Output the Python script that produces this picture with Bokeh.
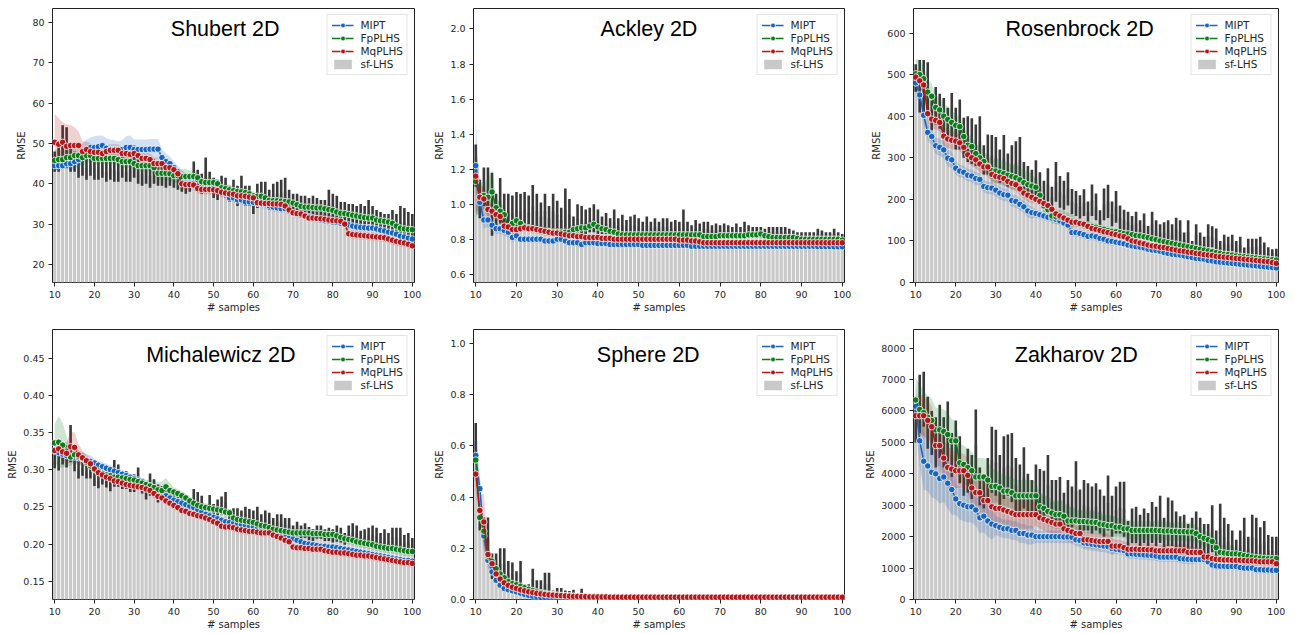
from bokeh.plotting import figure
from bokeh.models import Range1d, Label, Legend, LegendItem, FixedTicker, PrintfTickFormatter
from bokeh.layouts import gridplot
from bokeh.embed import file_html
from bokeh.resources import INLINE

samples = list(range(10, 101))
x_ticks = [10, 20, 30, 40, 50, 60, 70, 80, 90, 100]
series_names = ["MIPT", "FpPLHS", "MqPLHS", "sf-LHS"]

# ---------------- Shubert 2D ----------------
shubert_sflhs = [45.5,46.5,49.5,49.0,46.0,45.5,44.5,45.0,44.0,44.5,
 44.0,43.5,44.5,43.0,44.0,43.5,43.0,44.5,43.0,43.5,
 45.5,43.0,42.5,43.5,42.0,43.0,42.0,42.5,41.5,42.0,
 41.5,41.0,40.5,39.5,40.0,42.5,41.0,40.0,43.0,40.5,
 39.0,38.5,39.5,39.0,37.5,38.5,37.0,39.0,37.0,37.0,
 35.0,37.0,37.5,37.5,36.0,37.0,37.5,37.5,38.0,36.0,
 35.0,35.0,34.5,34.5,34.0,34.5,34.0,33.5,33.5,35.0,
 34.5,34.0,33.0,33.0,32.5,32.5,32.0,32.5,32.0,33.0,
 31.5,31.0,30.5,30.5,30.5,30.5,30.0,30.5,30.5,30.0,
 29.5]
shubert_sflhs_err = [2.5,3.5,5.0,5.0,3.0,2.5,3.0,3.0,3.0,2.5,
 3.0,2.5,3.0,2.5,3.0,3.0,2.5,3.0,2.5,3.0,
 4.0,3.0,3.0,3.5,3.0,3.0,2.5,3.0,2.5,2.5,
 2.5,2.5,2.5,2.0,2.0,3.0,2.5,2.5,3.5,2.5,
 2.5,2.5,2.5,2.5,2.0,2.5,2.5,3.0,2.5,2.5,
 2.5,3.0,3.0,3.0,2.5,3.0,3.0,3.5,3.5,2.5,
 2.5,2.5,2.5,2.5,2.5,2.5,2.5,2.5,2.5,3.5,
 3.0,3.0,2.5,2.5,2.5,2.5,2.5,2.5,2.5,3.0,
 3.0,2.5,2.5,2.0,2.0,3.0,2.5,4.0,3.5,3.0,
 3.0]
shubert_mipt = [44.5,44.5,44.5,45.0,45.0,45.5,46.0,47.5,48.5,49.0,
 49.0,49.2,49.5,48.8,48.5,48.5,48.5,48.5,49.0,49.0,
 48.5,48.5,48.5,48.5,48.6,48.6,48.6,46.5,45.5,45.0,
 44.0,43.0,42.0,41.5,41.5,41.5,41.0,40.5,40.0,39.8,
 39.5,39.0,38.5,37.5,36.5,36.5,36.0,36.0,35.5,35.5,
 35.4,35.2,35.0,34.8,34.5,34.2,34.0,33.8,33.8,33.2,
 32.7,32.5,32.2,32.0,31.8,31.5,31.3,31.0,30.8,30.7,
 30.5,30.4,30.2,30.0,29.8,29.5,29.3,29.2,29.1,29.0,
 29.0,28.8,28.5,28.3,28.0,27.8,27.5,27.0,26.8,26.5,
 26.3]
shubert_mipt_band = [1.0,1.0,1.0,1.2,1.5,1.8,2.0,2.5,2.5,2.5,
 2.8,2.8,2.5,2.5,2.5,2.3,2.0,2.3,2.8,3.0,
 2.5,2.5,2.5,2.5,2.5,2.5,2.5,2.0,2.0,1.8,
 1.5,1.5,1.3,1.2,1.2,1.2,1.2,1.0,1.0,1.0,
 1.0,1.0,1.0,1.0,1.0,1.0,1.0,1.0,1.0,1.0,
 1.0,1.0,1.0,1.0,1.0,1.0,1.0,1.0,1.0,1.0,
 0.9,0.9,0.9,0.9,0.9,0.9,0.9,0.9,0.9,0.9,
 0.9,0.9,0.9,0.9,0.9,0.9,0.9,0.9,0.9,0.9,
 0.8,0.8,0.8,0.8,0.8,0.8,0.8,0.8,0.8,0.8,
 0.8]
shubert_fp = [45.8,46.0,46.0,46.5,46.5,47.0,47.0,46.5,47.0,47.0,
 46.3,46.3,46.3,46.3,46.3,46.3,46.0,45.5,45.5,45.5,
 45.0,44.5,44.5,44.5,44.5,44.0,42.6,42.6,42.6,42.5,
 42.0,42.0,41.8,41.8,41.8,41.8,41.5,40.5,40.3,40.3,
 40.3,40.0,39.0,38.8,38.5,38.3,38.1,38.0,37.8,37.5,
 37.0,36.9,36.9,36.5,35.9,35.8,35.8,35.7,35.6,35.5,
 35.2,34.8,34.4,34.2,34.2,34.1,34.0,34.0,33.8,33.6,
 33.4,33.0,32.7,32.6,32.4,32.2,32.0,31.8,31.6,31.5,
 31.5,31.0,30.8,30.7,30.5,30.2,29.5,29.0,28.8,28.7,
 28.6]
shubert_fp_band = [2.5,2.5,2.0,2.5,2.0,2.0,2.0,2.0,1.8,1.8,
 1.5,1.5,1.5,1.5,1.5,1.5,1.5,1.5,1.5,1.5,
 1.5,1.5,1.5,1.5,1.5,1.8,1.8,1.8,1.8,1.8,
 1.8,1.8,1.8,1.8,1.5,1.5,1.5,1.2,1.2,1.2,
 1.0,1.0,1.0,1.0,1.0,1.0,1.0,1.0,1.0,1.0,
 1.0,1.0,1.0,1.0,1.0,1.0,1.0,1.0,1.0,1.0,
 1.0,1.0,1.0,1.0,1.0,1.0,1.0,1.0,1.0,1.0,
 1.0,1.0,1.0,1.0,1.0,1.0,1.0,1.0,1.0,1.0,
 1.0,1.0,1.0,1.0,1.0,1.0,1.0,1.0,1.0,1.0,
 1.0]
shubert_mq = [50.3,49.8,50.3,49.3,49.5,49.5,49.5,48.0,48.5,48.0,
 47.8,47.8,47.5,48.0,48.3,48.3,48.3,47.5,47.5,47.3,
 47.5,47.0,46.3,46.3,46.0,45.0,45.0,45.0,44.0,44.0,
 43.5,42.5,40.0,39.8,39.8,39.7,38.8,38.6,38.6,38.6,
 38.5,38.3,37.9,37.7,37.5,37.4,37.0,37.0,36.9,36.7,
 36.5,35.3,35.2,35.1,35.1,35.0,35.0,34.9,34.5,33.5,
 32.8,32.6,32.5,32.0,31.5,31.5,31.4,31.3,31.2,31.0,
 30.9,30.8,30.7,30.0,27.6,27.4,27.3,27.2,27.1,27.0,
 26.9,26.8,26.7,26.6,26.3,26.0,25.7,25.5,25.3,25.0,
 24.6]
shubert_mq_band = [7.0,6.5,5.0,5.5,5.0,4.5,3.5,2.5,2.0,2.0,
 1.5,1.5,1.5,1.5,1.5,1.5,1.5,1.5,1.5,1.5,
 1.5,1.5,1.5,1.5,1.5,1.5,1.5,1.5,1.5,1.5,
 1.2,1.2,1.2,1.2,1.2,1.2,1.2,1.2,1.2,1.2,
 1.2,1.2,1.2,1.2,1.2,1.2,1.2,1.2,1.2,1.2,
 1.0,1.0,1.0,1.0,1.0,1.0,1.0,1.0,1.0,1.0,
 1.0,1.0,1.0,1.0,1.0,1.0,1.0,1.0,1.0,1.0,
 1.0,1.0,1.0,1.0,1.0,1.0,1.0,1.0,1.0,1.0,
 1.0,1.0,1.0,1.0,1.0,1.0,1.0,1.0,1.0,1.0,
 1.0]

# ---------------- Ackley 2D ----------------
ackley_sflhs = [1.22,1.03,1.10,1.08,1.00,0.96,1.02,0.96,0.96,0.95,
 0.97,0.96,0.97,0.95,0.99,0.96,0.93,0.96,0.92,0.96,
 0.94,0.91,0.97,0.94,0.88,0.92,0.91,0.90,0.91,0.92,
 0.90,0.88,0.89,0.87,0.90,0.87,0.88,0.86,0.88,0.88,
 0.87,0.86,0.88,0.86,0.87,0.86,0.87,0.87,0.86,0.87,
 0.86,0.89,0.86,0.85,0.86,0.85,0.86,0.86,0.85,0.85,
 0.85,0.85,0.85,0.84,0.85,0.84,0.86,0.85,0.84,0.84,
 0.84,0.83,0.84,0.84,0.84,0.84,0.84,0.83,0.83,0.82,
 0.82,0.82,0.82,0.82,0.83,0.83,0.82,0.82,0.83,0.82,
 0.81]
ackley_sflhs_err = [0.12,0.11,0.11,0.13,0.18,0.10,0.13,0.10,0.10,0.10,
 0.10,0.10,0.10,0.10,0.12,0.10,0.08,0.10,0.07,0.10,
 0.08,0.07,0.12,0.09,0.05,0.08,0.08,0.07,0.07,0.08,
 0.07,0.05,0.06,0.05,0.07,0.05,0.06,0.05,0.05,0.06,
 0.05,0.04,0.05,0.04,0.05,0.04,0.05,0.05,0.04,0.04,
 0.04,0.08,0.04,0.03,0.05,0.04,0.04,0.04,0.03,0.04,
 0.03,0.04,0.03,0.03,0.04,0.03,0.04,0.03,0.03,0.03,
 0.03,0.03,0.03,0.03,0.03,0.03,0.03,0.03,0.02,0.02,
 0.02,0.02,0.02,0.02,0.03,0.02,0.02,0.02,0.03,0.02,
 0.02]
ackley_mipt = [1.22,1.01,0.91,0.91,0.88,0.86,0.86,0.85,0.84,0.81,
 0.82,0.80,0.80,0.80,0.80,0.80,0.80,0.79,0.79,0.79,
 0.80,0.80,0.79,0.78,0.78,0.78,0.77,0.78,0.78,0.78,
 0.775,0.775,0.775,0.77,0.77,0.77,0.77,0.77,0.77,0.77,
 0.77,0.765,0.765,0.765,0.765,0.765,0.765,0.765,0.765,0.765,
 0.765,0.765,0.765,0.76,0.76,0.76,0.76,0.76,0.76,0.76,
 0.76,0.76,0.76,0.76,0.76,0.76,0.76,0.76,0.76,0.76,
 0.76,0.76,0.76,0.76,0.76,0.76,0.76,0.76,0.76,0.76,
 0.76,0.76,0.76,0.76,0.758,0.758,0.758,0.758,0.757,0.757,
 0.757]
ackley_mipt_band = [0.27,0.08,0.05,0.04,0.035,0.03,0.03,0.03,0.03,0.03,
 0.02,0.02,0.02,0.02,0.02,0.02,0.02,0.02,0.02,0.02,
 0.02,0.02,0.02,0.02,0.02,0.02,0.02,0.02,0.02,0.02,
 0.012,0.012,0.012,0.012,0.012,0.012,0.012,0.012,0.012,0.012,
 0.012,0.012,0.012,0.012,0.012,0.012,0.012,0.012,0.012,0.012,
 0.012,0.012,0.012,0.012,0.012,0.012,0.012,0.012,0.012,0.012,
 0.012,0.012,0.012,0.012,0.012,0.012,0.012,0.012,0.012,0.012,
 0.012,0.012,0.012,0.012,0.012,0.012,0.012,0.012,0.012,0.012,
 0.012,0.012,0.012,0.012,0.012,0.012,0.012,0.012,0.012,0.012,
 0.012]
ackley_fp = [1.13,1.04,1.05,1.04,1.07,0.98,0.96,0.94,0.87,0.89,
 0.905,0.89,0.87,0.865,0.86,0.855,0.85,0.845,0.845,0.84,
 0.84,0.84,0.84,0.84,0.855,0.86,0.865,0.865,0.875,0.885,
 0.87,0.86,0.855,0.845,0.84,0.83,0.825,0.825,0.825,0.825,
 0.825,0.825,0.825,0.825,0.825,0.825,0.825,0.825,0.825,0.825,
 0.825,0.825,0.825,0.825,0.825,0.825,0.815,0.815,0.815,0.815,
 0.82,0.82,0.82,0.82,0.82,0.82,0.82,0.825,0.825,0.825,
 0.83,0.82,0.815,0.81,0.81,0.81,0.81,0.81,0.81,0.805,
 0.80,0.80,0.80,0.80,0.80,0.80,0.80,0.80,0.80,0.80,
 0.795]
ackley_fp_band = [0.20,0.08,0.08,0.10,0.13,0.06,0.05,0.04,0.03,0.03,
 0.025,0.025,0.025,0.025,0.025,0.025,0.025,0.025,0.025,0.025,
 0.025,0.025,0.025,0.025,0.025,0.025,0.025,0.025,0.025,0.025,
 0.015,0.015,0.015,0.015,0.015,0.015,0.015,0.015,0.015,0.015,
 0.015,0.015,0.015,0.015,0.015,0.015,0.015,0.015,0.015,0.015,
 0.015,0.015,0.015,0.015,0.015,0.015,0.015,0.015,0.015,0.015,
 0.015,0.015,0.015,0.015,0.015,0.015,0.015,0.015,0.015,0.015,
 0.015,0.015,0.015,0.015,0.015,0.015,0.015,0.015,0.015,0.015,
 0.015,0.015,0.015,0.015,0.015,0.015,0.015,0.015,0.015,0.015,
 0.015]
ackley_mq = [1.16,1.04,1.03,0.97,0.96,0.94,0.93,0.875,0.87,0.855,
 0.855,0.86,0.865,0.86,0.86,0.855,0.85,0.845,0.84,0.835,
 0.835,0.83,0.825,0.82,0.82,0.815,0.815,0.81,0.81,0.81,
 0.81,0.805,0.805,0.805,0.80,0.80,0.80,0.80,0.80,0.80,
 0.80,0.80,0.80,0.80,0.80,0.80,0.80,0.80,0.80,0.80,
 0.795,0.795,0.795,0.79,0.79,0.785,0.78,0.78,0.78,0.78,
 0.78,0.78,0.78,0.78,0.78,0.78,0.78,0.78,0.78,0.78,
 0.78,0.78,0.78,0.78,0.78,0.78,0.78,0.78,0.78,0.78,
 0.78,0.78,0.78,0.78,0.78,0.78,0.78,0.78,0.78,0.78,
 0.78]
ackley_mq_band = [0.20,0.08,0.06,0.05,0.04,0.03,0.03,0.03,0.03,0.03,
 0.02,0.02,0.02,0.02,0.02,0.02,0.02,0.02,0.02,0.02,
 0.02,0.02,0.02,0.02,0.02,0.02,0.02,0.02,0.02,0.02,
 0.012,0.012,0.012,0.012,0.012,0.012,0.012,0.012,0.012,0.012,
 0.012,0.012,0.012,0.012,0.012,0.012,0.012,0.012,0.012,0.012,
 0.012,0.012,0.012,0.012,0.012,0.012,0.012,0.012,0.012,0.012,
 0.012,0.012,0.012,0.012,0.012,0.012,0.012,0.012,0.012,0.012,
 0.012,0.012,0.012,0.012,0.012,0.012,0.012,0.012,0.012,0.012,
 0.012,0.012,0.012,0.012,0.012,0.012,0.012,0.012,0.012,0.012,
 0.012]

# ---------------- Rosenbrock 2D ----------------
rosen_sflhs = [492,472,470,465,402,425,412,402,380,398,
 370,380,348,345,340,330,340,295,308,305,
 300,280,300,270,282,288,295,252,245,238,
 252,232,215,235,205,242,218,210,225,195,
 190,182,192,170,198,182,152,188,195,165,
 182,155,150,145,138,142,128,138,118,140,
 125,118,120,125,118,128,122,102,122,88,
 115,100,92,112,110,105,85,95,90,95,
 82,90,72,85,85,85,88,78,70,69,
 68]
rosen_sflhs_err = [33,63,65,65,36,45,42,42,40,58,
 50,60,48,55,55,50,60,35,48,50,
 50,40,55,40,48,52,55,38,35,33,
 42,33,30,40,25,48,38,35,40,30,
 30,28,32,25,38,32,22,38,40,30,
 38,30,25,25,22,28,22,28,18,30,
 25,22,25,25,22,28,28,18,28,12,
 25,20,18,28,25,25,15,20,20,20,
 18,20,12,20,20,20,22,18,15,11,
 13]
rosen_mipt = [480,451,402,361,351,329,325,319,299,295,
 275,268,265,258,256,250,248,231,228,227,
 222,215,211,210,197,195,188,182,172,168,
 166,163,160,157,155,152,148,143,138,120,
 120,118,115,111,112,110,106,104,100,99,
 97,95,93,90,88,86,85,83,80,78,
 77,75,72,70,68,67,66,64,62,60,
 58,57,56,53,52,50,49,48,47,46,
 45,44,43,42,41,40,39,38,37,36,
 35]
rosen_mipt_band = [30,25,22,20,20,20,20,20,20,20,
 15,15,15,15,15,15,15,15,15,15,
 15,15,15,15,15,15,15,15,15,15,
 10,10,10,10,10,10,10,10,10,10,
 10,10,10,10,10,10,10,10,10,10,
 6,6,6,6,6,6,6,6,6,6,
 6,6,6,6,6,6,6,6,6,6,
 4,4,4,4,4,4,4,4,4,4,
 4,4,4,4,4,4,4,4,4,4,
 4]
rosen_fp = [502,500,490,458,448,421,415,400,392,385,
 378,375,351,330,327,310,300,291,280,269,
 268,265,262,258,255,252,247,240,235,232,
 229,210,184,175,160,158,157,155,150,148,
 145,143,140,138,135,133,130,128,125,123,
 122,120,118,117,115,113,112,110,108,105,
 103,100,98,96,94,92,90,88,86,84,
 82,80,78,76,74,72,70,68,67,66,
 64,63,62,61,60,59,58,57,56,55,
 54]
rosen_fp_band = [35,35,30,30,30,30,30,30,30,30,
 25,25,25,25,25,25,25,25,25,25,
 30,30,30,30,30,30,30,30,30,30,
 18,18,18,18,18,18,18,18,18,18,
 10,10,10,10,10,10,10,10,10,10,
 7,7,7,7,7,7,7,7,7,7,
 7,7,7,7,7,7,7,7,7,7,
 5,5,5,5,5,5,5,5,5,5,
 5,5,5,5,5,5,5,5,5,5,
 5]
rosen_mq = [494,485,475,406,393,390,385,352,345,342,
 340,336,325,307,300,295,285,278,278,260,
 255,253,250,243,238,235,225,215,210,205,
 200,195,190,185,176,165,160,155,150,145,
 145,142,140,135,130,128,125,122,120,117,
 115,112,110,105,100,98,95,93,90,88,
 87,85,84,82,80,78,76,75,73,72,
 70,69,67,66,65,63,62,61,60,59,
 58,57,56,55,54,53,52,51,50,48,
 46]
rosen_mq_band = [25,22,22,22,22,22,22,22,22,22,
 20,20,20,20,20,20,20,20,20,20,
 15,15,15,15,15,15,15,15,15,15,
 10,10,10,10,10,10,10,10,10,10,
 10,10,10,10,10,10,10,10,10,10,
 6,6,6,6,6,6,6,6,6,6,
 6,6,6,6,6,6,6,6,6,6,
 4,4,4,4,4,4,4,4,4,4,
 4,4,4,4,4,4,4,4,4,4,
 4]

# ---------------- Michalewicz 2D ----------------
mich_sflhs = [0.312,0.311,0.322,0.318,0.335,0.310,0.300,0.302,0.298,0.298,
 0.288,0.285,0.290,0.284,0.281,0.295,0.292,0.284,0.286,0.280,
 0.282,0.288,0.278,0.272,0.280,0.275,0.268,0.268,0.265,0.263,
 0.258,0.256,0.254,0.250,0.252,0.260,0.258,0.255,0.244,0.254,
 0.244,0.248,0.252,0.256,0.238,0.238,0.238,0.236,0.240,0.237,
 0.235,0.238,0.231,0.234,0.232,0.226,0.230,0.230,0.226,0.226,
 0.217,0.220,0.216,0.218,0.214,0.212,0.216,0.216,0.212,0.213,
 0.211,0.214,0.212,0.207,0.214,0.216,0.214,0.208,0.210,0.211,
 0.212,0.210,0.204,0.208,0.204,0.209,0.209,0.208,0.201,0.203,
 0.198]
mich_sflhs_err = [0.010,0.012,0.015,0.015,0.025,0.012,0.012,0.010,0.010,0.010,
 0.010,0.010,0.010,0.008,0.010,0.018,0.015,0.010,0.012,0.010,
 0.012,0.015,0.010,0.012,0.015,0.012,0.012,0.010,0.010,0.010,
 0.010,0.010,0.010,0.010,0.010,0.014,0.012,0.010,0.008,0.012,
 0.010,0.012,0.012,0.014,0.008,0.010,0.010,0.009,0.010,0.010,
 0.010,0.012,0.009,0.011,0.010,0.009,0.010,0.010,0.009,0.009,
 0.008,0.010,0.009,0.010,0.009,0.008,0.009,0.009,0.008,0.009,
 0.009,0.011,0.010,0.008,0.011,0.012,0.011,0.010,0.010,0.011,
 0.013,0.012,0.011,0.012,0.011,0.013,0.013,0.014,0.011,0.012,
 0.010]
mich_mipt = [0.325,0.323,0.321,0.319,0.318,0.317,0.316,0.315,0.313,0.311,
 0.309,0.306,0.304,0.302,0.300,0.298,0.296,0.294,0.292,0.290,
 0.288,0.286,0.284,0.281,0.278,0.275,0.272,0.268,0.265,0.262,
 0.259,0.257,0.255,0.253,0.251,0.249,0.246,0.243,0.240,0.238,
 0.236,0.234,0.232,0.230,0.229,0.228,0.227,0.226,0.225,0.224,
 0.223,0.221,0.219,0.217,0.215,0.213,0.212,0.211,0.210,0.208,
 0.207,0.205,0.203,0.201,0.200,0.199,0.198,0.197,0.197,0.196,
 0.196,0.195,0.194,0.193,0.192,0.191,0.190,0.189,0.188,0.187,
 0.186,0.185,0.184,0.183,0.182,0.181,0.180,0.179,0.178,0.178,
 0.177]
mich_mipt_band = [0.006,0.006,0.006,0.006,0.007,0.008,0.008,0.008,0.008,0.008,
 0.006,0.006,0.006,0.006,0.006,0.006,0.006,0.006,0.006,0.006,
 0.005,0.005,0.005,0.005,0.005,0.005,0.005,0.005,0.005,0.005,
 0.004,0.004,0.004,0.004,0.004,0.004,0.004,0.004,0.004,0.004,
 0.004,0.004,0.004,0.004,0.004,0.004,0.004,0.004,0.004,0.004,
 0.004,0.004,0.004,0.004,0.004,0.004,0.004,0.004,0.004,0.004,
 0.004,0.004,0.004,0.004,0.004,0.004,0.004,0.004,0.004,0.004,
 0.004,0.004,0.004,0.004,0.004,0.004,0.004,0.004,0.004,0.004,
 0.004,0.004,0.004,0.004,0.004,0.004,0.004,0.004,0.004,0.004,
 0.004]
mich_fp = [0.336,0.337,0.333,0.325,0.317,0.320,0.318,0.315,0.310,0.305,
 0.300,0.298,0.295,0.293,0.292,0.290,0.290,0.289,0.288,0.287,
 0.286,0.284,0.282,0.280,0.278,0.276,0.273,0.272,0.277,0.272,
 0.270,0.268,0.265,0.262,0.258,0.255,0.252,0.250,0.249,0.248,
 0.247,0.246,0.245,0.243,0.242,0.235,0.233,0.232,0.231,0.230,
 0.229,0.227,0.225,0.224,0.222,0.220,0.219,0.218,0.217,0.216,
 0.215,0.215,0.215,0.215,0.215,0.214,0.214,0.214,0.213,0.213,
 0.213,0.211,0.209,0.207,0.206,0.205,0.203,0.202,0.201,0.200,
 0.199,0.197,0.196,0.195,0.194,0.194,0.193,0.192,0.191,0.190,
 0.190]
mich_fp_band = [0.025,0.035,0.030,0.020,0.012,0.010,0.008,0.008,0.008,0.008,
 0.006,0.006,0.006,0.006,0.006,0.006,0.006,0.006,0.006,0.006,
 0.006,0.006,0.006,0.006,0.008,0.010,0.010,0.012,0.012,0.010,
 0.006,0.006,0.006,0.006,0.006,0.006,0.006,0.006,0.006,0.006,
 0.005,0.005,0.005,0.005,0.005,0.005,0.005,0.005,0.005,0.005,
 0.005,0.005,0.005,0.005,0.005,0.005,0.005,0.005,0.005,0.005,
 0.006,0.006,0.006,0.006,0.006,0.006,0.006,0.006,0.006,0.006,
 0.006,0.006,0.006,0.006,0.006,0.006,0.006,0.006,0.006,0.006,
 0.006,0.006,0.006,0.006,0.006,0.006,0.006,0.006,0.006,0.006,
 0.006]
mich_mq = [0.326,0.328,0.324,0.322,0.331,0.330,0.320,0.316,0.312,0.308,
 0.301,0.296,0.293,0.290,0.288,0.285,0.284,0.282,0.280,0.279,
 0.278,0.277,0.276,0.274,0.272,0.268,0.264,0.262,0.258,0.255,
 0.252,0.249,0.245,0.244,0.241,0.240,0.238,0.237,0.235,0.233,
 0.230,0.228,0.224,0.223,0.223,0.222,0.220,0.219,0.218,0.217,
 0.217,0.216,0.215,0.215,0.215,0.212,0.210,0.208,0.205,0.203,
 0.196,0.195,0.195,0.194,0.194,0.193,0.193,0.193,0.191,0.190,
 0.189,0.189,0.188,0.188,0.187,0.186,0.185,0.185,0.184,0.184,
 0.183,0.182,0.181,0.180,0.179,0.178,0.177,0.176,0.175,0.175,
 0.174]
mich_mq_band = [0.008,0.010,0.012,0.015,0.020,0.020,0.015,0.010,0.008,0.008,
 0.005,0.005,0.005,0.005,0.005,0.005,0.005,0.005,0.005,0.005,
 0.005,0.005,0.005,0.005,0.005,0.005,0.005,0.005,0.005,0.005,
 0.005,0.005,0.005,0.005,0.005,0.005,0.005,0.005,0.005,0.005,
 0.005,0.005,0.005,0.005,0.005,0.005,0.005,0.005,0.005,0.005,
 0.005,0.005,0.005,0.005,0.005,0.005,0.005,0.005,0.005,0.005,
 0.005,0.005,0.005,0.005,0.005,0.005,0.005,0.005,0.005,0.005,
 0.005,0.005,0.005,0.005,0.005,0.005,0.005,0.005,0.005,0.005,
 0.005,0.005,0.005,0.005,0.005,0.005,0.005,0.005,0.005,0.005,
 0.005]

# ---------------- Sphere 2D ----------------
sphere_sflhs = [0.62,0.30,0.29,0.24,0.13,0.14,0.14,0.14,0.10,0.10,
 0.07,0.10,0.04,0.04,0.08,0.045,0.045,0.06,0.06,0.025,
 0.03,0.03,0.025,0.025,0.028,0.015,0.03,0.012,0.012,0.012,
 0.012,0.011,0.011,0.012,0.011,0.010,0.010,0.010,0.010,0.010,
 0.010,0.010,0.009,0.009,0.009,0.009,0.009,0.009,0.009,0.009,
 0.008,0.008,0.008,0.008,0.008,0.008,0.008,0.008,0.008,0.008,
 0.008,0.008,0.008,0.008,0.008,0.008,0.008,0.008,0.008,0.008,
 0.007,0.007,0.007,0.007,0.007,0.007,0.007,0.007,0.007,0.007,
 0.007,0.007,0.007,0.007,0.007,0.007,0.007,0.007,0.007,0.007,
 0.007]
sphere_sflhs_err = [0.07,0.03,0.03,0.08,0.05,0.04,0.06,0.06,0.05,0.045,
 0.04,0.05,0.02,0.02,0.04,0.03,0.03,0.045,0.045,0.01,
 0.015,0.015,0.01,0.008,0.01,0.005,0.012,0.004,0.004,0.004,
 0.006,0.005,0.005,0.006,0.004,0.004,0.004,0.004,0.004,0.004,
 0.003,0.003,0.003,0.003,0.003,0.003,0.003,0.003,0.003,0.003,
 0.003,0.003,0.003,0.003,0.003,0.003,0.003,0.003,0.003,0.003,
 0.003,0.003,0.003,0.003,0.003,0.003,0.003,0.003,0.003,0.003,
 0.003,0.003,0.003,0.003,0.003,0.003,0.003,0.003,0.003,0.003,
 0.003,0.003,0.003,0.003,0.003,0.003,0.003,0.003,0.003,0.003,
 0.003]
sphere_mipt = [0.563,0.433,0.248,0.153,0.108,0.075,0.056,0.043,0.038,0.034,
 0.030,0.025,0.020,0.016,0.013,0.010,0.008,0.006,0.005,0.004,
 0.003,0.003,0.003,0.002,0.002,0.002,0.002,0.002,0.002,0.002,
 0.002,0.002,0.002,0.002,0.002,0.002,0.002,0.002,0.002,0.002,
 0.002,0.002,0.002,0.002,0.002,0.002,0.002,0.002,0.002,0.002,
 0.001,0.001,0.001,0.001,0.001,0.001,0.001,0.001,0.001,0.001,
 0.001,0.001,0.001,0.001,0.001,0.001,0.001,0.001,0.001,0.001,
 0.001,0.001,0.001,0.001,0.001,0.001,0.001,0.001,0.001,0.001,
 0.001,0.001,0.001,0.001,0.001,0.001,0.001,0.001,0.001,0.001,
 0.001]
sphere_mipt_band = [0.09,0.06,0.04,0.03,0.02,0.012,0.012,0.012,0.012,0.012,
 0.006,0.006,0.006,0.006,0.006,0.006,0.006,0.006,0.006,0.006,
 0.002,0.002,0.002,0.002,0.002,0.002,0.002,0.002,0.002,0.002,
 0.002,0.002,0.002,0.002,0.002,0.002,0.002,0.002,0.002,0.002,
 0.002,0.002,0.002,0.002,0.002,0.002,0.002,0.002,0.002,0.002,
 0.002,0.002,0.002,0.002,0.002,0.002,0.002,0.002,0.002,0.002,
 0.002,0.002,0.002,0.002,0.002,0.002,0.002,0.002,0.002,0.002,
 0.002,0.002,0.002,0.002,0.002,0.002,0.002,0.002,0.002,0.002,
 0.002,0.002,0.002,0.002,0.002,0.002,0.002,0.002,0.002,0.002,
 0.002]
sphere_fp = [0.545,0.32,0.267,0.17,0.15,0.12,0.10,0.085,0.07,0.062,
 0.058,0.052,0.046,0.040,0.035,0.030,0.027,0.024,0.021,0.019,
 0.017,0.016,0.015,0.014,0.013,0.012,0.012,0.011,0.011,0.010,
 0.010,0.010,0.010,0.009,0.009,0.009,0.009,0.009,0.009,0.009,
 0.008,0.008,0.008,0.008,0.008,0.008,0.008,0.008,0.008,0.008,
 0.008,0.008,0.008,0.008,0.008,0.008,0.008,0.008,0.008,0.008,
 0.008,0.008,0.008,0.008,0.008,0.008,0.008,0.008,0.008,0.008,
 0.008,0.008,0.008,0.008,0.008,0.008,0.008,0.008,0.008,0.008,
 0.008,0.008,0.008,0.008,0.008,0.008,0.008,0.008,0.008,0.008,
 0.008]
sphere_fp_band = [0.06,0.05,0.04,0.025,0.02,0.012,0.012,0.012,0.012,0.012,
 0.006,0.006,0.006,0.006,0.006,0.006,0.006,0.006,0.006,0.006,
 0.002,0.002,0.002,0.002,0.002,0.002,0.002,0.002,0.002,0.002,
 0.002,0.002,0.002,0.002,0.002,0.002,0.002,0.002,0.002,0.002,
 0.002,0.002,0.002,0.002,0.002,0.002,0.002,0.002,0.002,0.002,
 0.002,0.002,0.002,0.002,0.002,0.002,0.002,0.002,0.002,0.002,
 0.002,0.002,0.002,0.002,0.002,0.002,0.002,0.002,0.002,0.002,
 0.002,0.002,0.002,0.002,0.002,0.002,0.002,0.002,0.002,0.002,
 0.002,0.002,0.002,0.002,0.002,0.002,0.002,0.002,0.002,0.002,
 0.002]
sphere_mq = [0.49,0.348,0.303,0.176,0.14,0.10,0.08,0.065,0.055,0.048,
 0.043,0.038,0.034,0.030,0.027,0.024,0.022,0.020,0.018,0.017,
 0.016,0.015,0.014,0.013,0.012,0.012,0.011,0.011,0.010,0.010,
 0.010,0.010,0.010,0.009,0.009,0.009,0.009,0.009,0.009,0.009,
 0.009,0.009,0.009,0.009,0.009,0.009,0.009,0.009,0.009,0.009,
 0.009,0.009,0.009,0.009,0.009,0.009,0.009,0.009,0.009,0.009,
 0.009,0.009,0.009,0.009,0.009,0.009,0.009,0.009,0.009,0.009,
 0.009,0.009,0.009,0.009,0.009,0.009,0.009,0.009,0.009,0.009,
 0.009,0.009,0.009,0.009,0.009,0.009,0.009,0.009,0.009,0.009,
 0.009]
sphere_mq_band = [0.07,0.06,0.11,0.04,0.03,0.012,0.012,0.012,0.012,0.012,
 0.006,0.006,0.006,0.006,0.006,0.006,0.006,0.006,0.006,0.006,
 0.002,0.002,0.002,0.002,0.002,0.002,0.002,0.002,0.002,0.002,
 0.002,0.002,0.002,0.002,0.002,0.002,0.002,0.002,0.002,0.002,
 0.002,0.002,0.002,0.002,0.002,0.002,0.002,0.002,0.002,0.002,
 0.002,0.002,0.002,0.002,0.002,0.002,0.002,0.002,0.002,0.002,
 0.002,0.002,0.002,0.002,0.002,0.002,0.002,0.002,0.002,0.002,
 0.002,0.002,0.002,0.002,0.002,0.002,0.002,0.002,0.002,0.002,
 0.002,0.002,0.002,0.002,0.002,0.002,0.002,0.002,0.002,0.002,
 0.002]

# ---------------- Zakharov 2D ----------------
zak_sflhs = [5650,6225,6375,5625,5300,5000,5350,5000,5350,4600,
 4850,4450,3700,4100,3900,4925,3600,3400,3800,4450,
 4350,3800,4200,4275,4200,3650,3500,3875,3300,3200,
 3500,3375,3300,3650,3100,3100,3150,2800,3050,2950,
 3450,2850,3000,2950,2850,2950,2800,2650,3075,2650,
 2850,2925,2875,2100,2350,2375,2200,2350,2225,2450,
 2325,2550,2100,2475,2425,2200,2075,2100,1950,2050,
 2150,2000,1900,1900,2250,1750,2275,2000,1850,1750,
 1550,1700,1950,1600,2000,1950,1750,1850,1575,1550,
 1550]
zak_sflhs_err = [650,925,875,825,700,800,850,800,950,700,
 850,750,400,700,700,1125,600,500,700,1050,
 1050,800,1000,975,1100,850,800,975,700,600,
 800,775,800,950,700,700,750,600,750,650,
 950,650,800,750,750,750,700,650,875,650,
 750,825,875,400,550,575,500,550,525,650,
 625,750,500,775,725,600,575,600,450,550,
 650,600,500,500,750,450,775,600,550,450,
 350,500,650,400,700,650,550,650,475,450,
 450]
zak_mipt = [6150,5050,4400,4250,4050,4000,3850,3900,3700,3500,
 3200,3050,3000,2950,2950,2850,2600,2650,2500,2400,
 2350,2300,2250,2250,2200,2200,2100,2100,2050,2050,
 2000,2000,2000,2000,2000,2000,2000,1990,1990,1980,
 1900,1880,1800,1780,1760,1740,1720,1700,1680,1620,
 1600,1580,1560,1450,1450,1440,1430,1420,1410,1400,
 1380,1350,1350,1350,1350,1350,1300,1290,1280,1270,
 1270,1270,1270,1200,1100,1070,1060,1060,1050,1050,
 1050,1020,1000,1000,1000,950,950,940,940,930,
 930]
zak_mipt_band = [700,800,900,800,800,800,800,800,800,800,
 500,500,500,500,500,500,500,500,500,500,
 300,300,300,300,300,300,300,300,300,300,
 200,200,200,200,200,200,200,200,200,200,
 200,200,200,200,200,200,200,200,200,200,
 150,150,150,150,150,150,150,150,150,150,
 150,150,150,150,150,150,150,150,150,150,
 120,120,120,120,120,120,120,120,120,120,
 120,120,120,120,120,120,120,120,120,120,
 120]
zak_fp = [6350,6050,5950,5800,5700,5400,5400,5350,5250,5050,
 5050,4350,4300,4200,4100,3900,3900,3900,3800,3600,
 3600,3550,3450,3450,3400,3300,3300,3300,3300,3300,
 3300,2950,2900,2800,2750,2700,2700,2650,2500,2500,
 2500,2480,2480,2470,2460,2450,2400,2380,2350,2350,
 2300,2300,2250,2250,2200,2200,2200,2200,2200,2200,
 2200,2190,2180,2180,2170,2170,2160,2160,2150,2150,
 2100,2000,1950,1900,1850,1650,1500,1480,1460,1450,
 1450,1430,1400,1380,1350,1330,1320,1310,1300,1300,
 1300]
zak_fp_band = [700,800,700,700,700,700,700,700,700,700,
 600,600,600,600,600,600,600,600,600,600,
 500,500,500,500,500,500,500,500,500,500,
 450,450,450,450,450,450,450,450,450,450,
 350,350,350,350,350,350,350,350,350,350,
 300,300,300,300,300,300,300,300,300,300,
 300,300,300,300,300,300,300,300,300,300,
 250,250,250,250,250,250,250,250,250,250,
 150,150,150,150,150,150,150,150,150,150,
 150]
zak_mq = [5850,5850,5850,5700,5500,4900,4900,4500,4200,4150,
 4100,4100,4100,3950,3550,3400,3400,3150,3150,2950,
 2900,2900,2850,2800,2750,2700,2700,2700,2700,2700,
 2700,2600,2550,2500,2450,2400,2400,2250,2200,2150,
 2100,2100,1900,1900,1880,1860,1850,1850,1850,1700,
 1700,1700,1650,1600,1600,1600,1590,1590,1580,1580,
 1550,1550,1550,1550,1550,1550,1550,1550,1500,1500,
 1500,1500,1350,1350,1300,1280,1270,1260,1260,1250,
 1250,1250,1240,1230,1230,1220,1200,1200,1200,1200,
 1140]
zak_mq_band = [600,650,650,650,650,650,650,650,650,650,
 550,550,550,550,550,550,550,550,550,550,
 450,450,450,450,450,450,450,450,450,450,
 350,350,350,350,350,350,350,350,350,350,
 250,250,250,250,250,250,250,250,250,250,
 200,200,200,200,200,200,200,200,200,200,
 200,200,200,200,200,200,200,200,200,200,
 150,150,150,150,150,150,150,150,150,150,
 150,150,150,150,150,150,150,150,150,150,
 150]

# ---------------- styling ----------------
C_MIPT = "#1864bd"
C_FP = "#0d7a1c"
C_MQ = "#b0181c"
C_BAR = "#c9c9c9"
C_ERR = "#3a3a3a"
C_TXT = "#262626"
TICK_FONT = "DejaVu Sans"


def panel(title, sf, sf_err, mipt, mipt_b, fp, fp_b, mq, mq_b,
          ylo, yhi, yticks, yfmt, w, h, bl, br, bt, bb, tfx, tfy):
    xlo, xhi = 9.45, 100.55
    p = figure(width=w, height=h, x_range=Range1d(xlo, xhi), y_range=Range1d(ylo, yhi),
               output_backend="svg", toolbar_location=None,
               min_border_left=bl, min_border_right=br, min_border_top=bt, min_border_bottom=bb)
    p.background_fill_color = "white"
    p.border_fill_color = "white"
    p.outline_line_color = "#222222"
    p.outline_line_width = 1
    p.grid.grid_line_color = None

    bars = p.vbar(x=samples, top=sf, bottom=0, width=0.8, fill_color=C_BAR, line_color=None)
    lo = [m - e for m, e in zip(sf, sf_err)]
    hi = [m + e for m, e in zip(sf, sf_err)]
    p.segment(x0=samples, y0=lo, x1=samples, y1=hi, line_color=C_ERR, line_width=2.6)

    groups = [("MIPT", mipt, mipt_b, C_MIPT), ("FpPLHS", fp, fp_b, C_FP), ("MqPLHS", mq, mq_b, C_MQ)]
    for name, vals, band, col in groups:
        y1 = [v - b for v, b in zip(vals, band)]
        y2 = [v + b for v, b in zip(vals, band)]
        p.varea(x=samples, y1=y1, y2=y2, fill_color=col, fill_alpha=0.2)
    items = []
    for name, vals, band, col in groups:
        ln = p.line(x=samples, y=vals, line_color=col, line_width=1.5)
        sc = p.scatter(x=samples, y=vals, marker="circle", size=6.5, fill_color=col,
                       line_color="white", line_width=0.8)
        items.append(LegendItem(label=name, renderers=[ln, sc]))
    items.append(LegendItem(label="sf-LHS", renderers=[bars]))

    leg = Legend(items=items, location="top_right")
    leg.label_text_font = TICK_FONT
    leg.label_text_font_size = "10.5px"
    leg.label_text_color = C_TXT
    leg.glyph_width = 22
    leg.glyph_height = 12
    leg.label_height = 12
    leg.label_standoff = 7
    leg.spacing = 1
    leg.padding = 4
    leg.margin = 6
    leg.border_line_color = "#cccccc"
    leg.border_line_width = 1
    leg.background_fill_alpha = 0.85
    p.add_layout(leg)

    p.add_layout(Label(x=xlo + tfx * (xhi - xlo), y=yhi - tfy * (yhi - ylo), text=title,
                       text_align="center", text_baseline="middle",
                       text_font="Liberation Sans", text_font_size="21.5px", text_color="black"))

    p.xaxis.ticker = FixedTicker(ticks=x_ticks)
    p.yaxis.ticker = FixedTicker(ticks=yticks)
    p.yaxis.formatter = PrintfTickFormatter(format=yfmt)
    p.xaxis.axis_label = "# samples"
    p.yaxis.axis_label = "RMSE"
    for ax in (p.xaxis, p.yaxis):
        ax.axis_line_color = None
        ax.major_tick_line_color = "#222222"
        ax.major_tick_out = 4
        ax.major_tick_in = 0
        ax.minor_tick_line_color = None
        ax.major_label_text_font = TICK_FONT
        ax.major_label_text_font_size = "9.5px"
        ax.major_label_text_color = C_TXT
        ax.axis_label_text_font = TICK_FONT
        ax.axis_label_text_font_size = "10px"
        ax.axis_label_text_font_style = "normal"
        ax.axis_label_text_color = C_TXT
    p.xaxis.major_label_standoff = 4
    p.xaxis.axis_label_standoff = 1
    p.yaxis.major_label_standoff = 4
    p.yaxis.axis_label_standoff = 2
    return p


p1 = panel("Shubert 2D", shubert_sflhs, shubert_sflhs_err, shubert_mipt, shubert_mipt_band,
           shubert_fp, shubert_fp_band, shubert_mq, shubert_mq_band,
           15.5, 83.5, [20, 30, 40, 50, 60, 70, 80], "%d", 430, 315, 43, 16, 8, 32, 0.477, 0.075)
p2 = panel("Ackley 2D", ackley_sflhs, ackley_sflhs_err, ackley_mipt, ackley_mipt_band,
           ackley_fp, ackley_fp_band, ackley_mq, ackley_mq_band,
           0.553, 2.117, [0.6, 0.8, 1.0, 1.2, 1.4, 1.6, 1.8, 2.0], "%.1f", 430, 315, 43, 16, 8, 32, 0.473, 0.075)
p3 = panel("Rosenbrock 2D", rosen_sflhs, rosen_sflhs_err, rosen_mipt, rosen_mipt_band,
           rosen_fp, rosen_fp_band, rosen_mq, rosen_mq_band,
           0, 659, [0, 100, 200, 300, 400, 500, 600], "%d", 435, 315, 48, 17, 8, 32, 0.455, 0.075)
p4 = panel("Michalewicz 2D", mich_sflhs, mich_sflhs_err, mich_mipt, mich_mipt_band,
           mich_fp, mich_fp_band, mich_mq, mich_mq_band,
           0.1254, 0.4886, [0.15, 0.20, 0.25, 0.30, 0.35, 0.40, 0.45], "%.2f", 430, 318, 52, 16, 14, 34, 0.465, 0.094)
p5 = panel("Sphere 2D", sphere_sflhs, sphere_sflhs_err, sphere_mipt, sphere_mipt_band,
           sphere_fp, sphere_fp_band, sphere_mq, sphere_mq_band,
           0, 1.055, [0.0, 0.2, 0.4, 0.6, 0.8, 1.0], "%.1f", 430, 318, 43, 16, 14, 34, 0.471, 0.094)
p6 = panel("Zakharov 2D", zak_sflhs, zak_sflhs_err, zak_mipt, zak_mipt_band,
           zak_fp, zak_fp_band, zak_mq, zak_mq_band,
           0, 8594, [0, 1000, 2000, 3000, 4000, 5000, 6000, 7000, 8000], "%d", 435, 318, 53, 17, 14, 34, 0.446, 0.094)

grid = gridplot([[p1, p2, p3], [p4, p5, p6]], toolbar_location=None)
open("out.html", "w").write(file_html(grid, INLINE))
